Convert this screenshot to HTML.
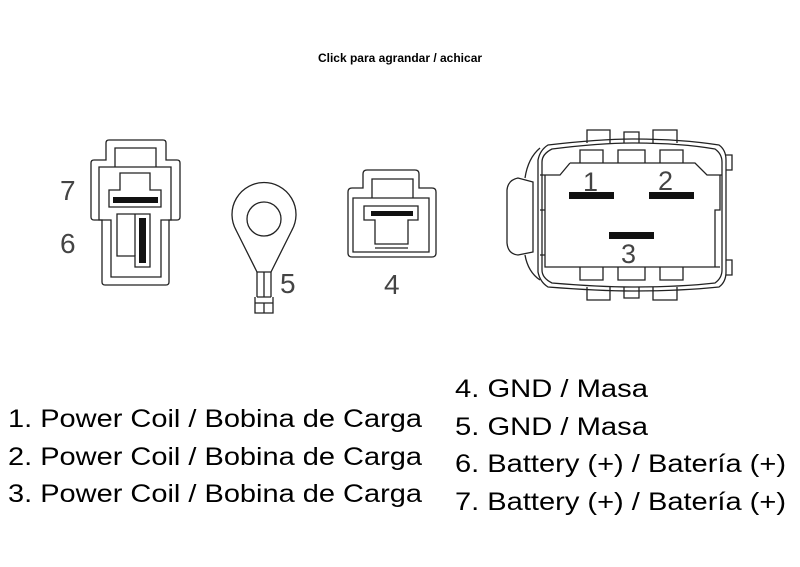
<!DOCTYPE html>
<html><head><meta charset="utf-8"><style>
html,body{margin:0;padding:0;background:#fff;}
svg{display:block;}
</style></head><body>
<svg width="800" height="567" viewBox="0 0 800 567" xmlns="http://www.w3.org/2000/svg" font-family="Liberation Sans, sans-serif">
<text x="400" y="62" text-anchor="middle" font-size="12" font-weight="bold" fill="#000">Click para agrandar / achicar</text>

<g fill="none" stroke="#222" stroke-width="1.3">
<!-- connector 7/6 -->
<path d="M106,160 V143 Q106,140 109,140 H163 Q166,140 166,143 V160 H177 Q180,160 180,163 V217 Q180,220 177,220 H169 V282 Q169,285 166,285 H105 Q102,285 102,282 V220 H94 Q91,220 91,217 V163 Q91,160 94,160 Z"/>
<path d="M115,167 V148 H156 V167"/>
<path d="M99,167 H171 V220 H161 V277 H111 V220 H99 Z"/>
<path d="M120,190 V173 H150 V190 H161 V207 H109 V190 Z"/>
<path d="M117,224 V214 H150 V267 H135 V256 H117 Z"/>
<path d="M135,214 V256"/>
<!-- ring terminal -->
<path d="M257,272 L236,230 A32,32 0 1 1 292,230 L271,272 Z"/>
<circle cx="264" cy="219" r="17"/>
<path d="M257,272 V297 M271,272 V297 M264,272 V297 M257,297 H271 M255,297 V313 H273 V297 M264,303 V313 M255,303 H273"/>
<!-- connector 4 -->
<path d="M363,188 V174 Q363,170 367,170 H415 Q419,170 419,174 V188 H432 Q436,188 436,192 V253 Q436,257 432,257 H352 Q348,257 348,253 V192 Q348,188 352,188 Z"/>
<path d="M372,198 V179 H413 V198"/>
<path d="M353,198 H429 V252 H353 Z"/>
<path d="M364,206 H418 V220 H408 V244 H375 V220 H364 Z"/>
<path d="M375,248 H408"/>
<!-- big connector -->
<path d="M587,143 V130 H610 V143 M624,143 V132 H639 V143 M653,143 V130 H677 V143"/>
<path d="M587,287 V300 H610 V287 M624,287 V298 H639 V287 M653,287 V300 H677 V287"/>
<path d="M548,145 Q600,139 632,139 Q680,139 719,145 Q726,150 726,160 V272 Q726,282 719,287 Q680,291 632,291 Q600,291 548,287 Q540,282 538,272 V160 Q540,150 548,145 Z"/>
<path d="M552,149 Q600,143 632,143 Q680,143 715,149 Q722,154 722,162 V270 Q722,278 715,283 Q680,287 632,287 Q600,287 552,283 Q542,278 542,270 V162 Q542,154 552,149 Z"/>
<path d="M580,163 V150 H603 V163 M618,163 V150 H645 V163 M660,163 V150 H683 V163"/>
<path d="M580,267 V280 H603 V267 M618,267 V280 H645 V267 M660,267 V280 H683 V267"/>
<path d="M570,163 H695 L707,175 H722 M570,163 L560,175 H540"/>
<path d="M545,175 V267 H720 M720,175 V210 H715 V267"/>
<path d="M545,210 H540 M545,255 H540"/>
<path d="M540,148 Q528,158 525,178 M540,280 Q528,272 525,255"/>
<path d="M533,182 L518,178 Q508,180 507,190 V243 Q508,254 518,255 L533,252 Z"/>
<path d="M726,155 H732 V170 H726 M726,260 H732 V275 H726"/>
</g>
<g fill="#111">
<rect x="113" y="197" width="45" height="6"/>
<rect x="139" y="218" width="7" height="45"/>
<rect x="371" y="211" width="42" height="5"/>
<rect x="569" y="192" width="45" height="7"/>
<rect x="649" y="192" width="45" height="7"/>
<rect x="609" y="232" width="45" height="7"/>
</g>
<g font-size="28" fill="#444" font-weight="normal">
<text x="60" y="200">7</text>
<text x="60" y="253">6</text>
<text x="280" y="293">5</text>
<text x="384" y="294">4</text>
<text x="583" y="191" font-size="27">1</text>
<text x="658" y="190" font-size="27">2</text>
<text x="621" y="263" font-size="27">3</text>
</g>
<g font-size="25" fill="#000">
<text x="8" y="427" textLength="414" lengthAdjust="spacingAndGlyphs">1. Power Coil / Bobina de Carga</text>
<text x="8" y="465" textLength="414" lengthAdjust="spacingAndGlyphs">2. Power Coil / Bobina de Carga</text>
<text x="8" y="502" textLength="414" lengthAdjust="spacingAndGlyphs">3. Power Coil / Bobina de Carga</text>
<text x="455" y="397" textLength="193" lengthAdjust="spacingAndGlyphs">4. GND / Masa</text>
<text x="455" y="435" textLength="193" lengthAdjust="spacingAndGlyphs">5. GND / Masa</text>
<text x="455" y="472" textLength="331" lengthAdjust="spacingAndGlyphs">6. Battery (+) / Batería (+)</text>
<text x="455" y="510" textLength="331" lengthAdjust="spacingAndGlyphs">7. Battery (+) / Batería (+)</text>
</g>
</svg>
</body></html>
